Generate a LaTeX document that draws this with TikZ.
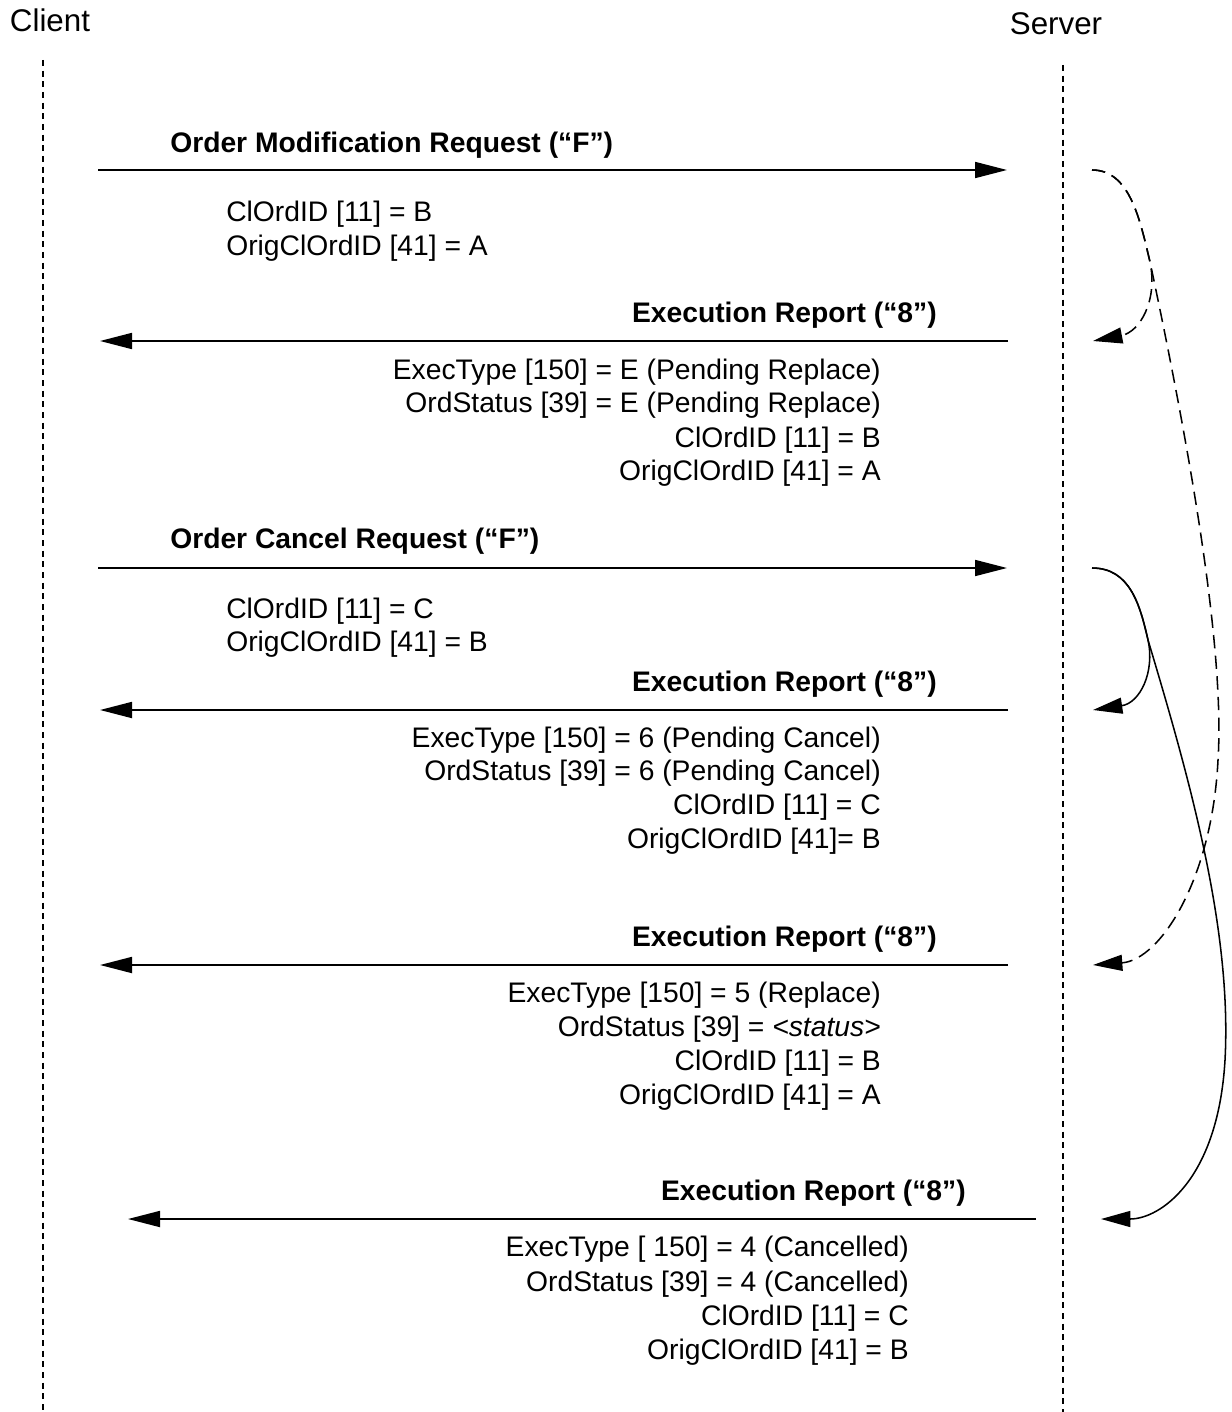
\documentclass[tikz,border=0pt]{standalone}
\usepackage{fontspec}
\setmainfont{Liberation Sans}
\usetikzlibrary{arrows.meta}
\tikzset{
  lifeline/.style={line width=1pt, dash pattern=on 4.5pt off 3.5pt},
  msg/.style={line width=1.3pt, -{Triangle[length=24pt,width=12pt]}},
  curvedash/.style={line width=1.15pt, dash pattern=on 10pt off 5.5pt, -{Triangle[length=22pt,width=12pt]}},
  curvesolid/.style={line width=1.15pt, -{Triangle[length=22pt,width=12pt]}},
  txt/.style={font=\fontsize{21.2}{25.5}\selectfont, inner sep=0pt},
  actor/.style={font=\fontsize{23.5}{28}\selectfont, inner sep=0pt, anchor=base},
  hdr/.style={font=\fontsize{21.2}{25.5}\selectfont\bfseries, inner sep=0pt},
  lt/.style={txt, anchor=base west},
  rt/.style={txt, anchor=base east},
}
\begin{document}
\begin{tikzpicture}[x=0.75pt,y=-0.75pt]
\useasboundingbox (0,0) rectangle (1231,1412);
% participants
\node[actor] (client) at (50,32) {Client};
\node[actor] (server) at (1056,35) {Server};
\coordinate (c0) at (43,60);
\coordinate (c1) at (43,1412);
\coordinate (s0) at (1063,65);
\coordinate (s1) at (1063,1412);
\draw[lifeline] (c0) -- (c1);
\draw[lifeline] (s0) -- (s1);

% message endpoints
\coordinate (m1a) at (98,170);   \coordinate (m1b) at (1007,170);
\coordinate (m2a) at (1008,341); \coordinate (m2b) at (100,341);
\coordinate (m3a) at (98,568);   \coordinate (m3b) at (1007,568);
\coordinate (m4a) at (1008,710); \coordinate (m4b) at (100,710);
\coordinate (m5a) at (1008,965); \coordinate (m5b) at (100,965);
\coordinate (m6a) at (1036,1219);\coordinate (m6b) at (128,1219);
\draw[msg] (m1a) -- (m1b);
\draw[msg] (m2a) -- (m2b);
\draw[msg] (m3a) -- (m3b);
\draw[msg] (m4a) -- (m4b);
\draw[msg] (m5a) -- (m5b);
\draw[msg] (m6a) -- (m6b);

% message 1
\node[hdr, anchor=base west] (h1) at (170,153) {Order Modification Request (“F”)};
\node[lt] (t11) at (226,222) {ClOrdID [11] = B};
\node[lt] (t12) at (226,256) {OrigClOrdID [41] = A};
% message 2
\node[hdr, anchor=base east] (h2) at (937,323) {Execution Report (“8”)};
\node[rt] (t21) at (881,379) {ExecType [150] = E (Pending Replace)};
\node[rt] (t22) at (881,412) {OrdStatus [39] = E (Pending Replace)};
\node[rt] (t23) at (881,447) {ClOrdID [11] = B};
\node[rt] (t24) at (881,480) {OrigClOrdID [41] = A};
% message 3
\node[hdr, anchor=base west] (h3) at (170,548) {Order Cancel Request (“F”)};
\node[lt] (t31) at (226,618) {ClOrdID [11] = C};
\node[lt] (t32) at (226,651) {OrigClOrdID [41] = B};
% message 4
\node[hdr, anchor=base east] (h4) at (937,691) {Execution Report (“8”)};
\node[rt] (t41) at (881,747) {ExecType [150] = 6 (Pending Cancel)};
\node[rt] (t42) at (881,780) {OrdStatus [39] = 6 (Pending Cancel)};
\node[rt] (t43) at (881,814) {ClOrdID [11] = C};
\node[rt] (t44) at (881,848) {OrigClOrdID [41]= B};
% message 5
\node[hdr, anchor=base east] (h5) at (937,946) {Execution Report (“8”)};
\node[rt] (t51) at (881,1002) {ExecType [150] = 5 (Replace)};
\node[rt] (t52) at (881,1036) {OrdStatus [39] = \textit{<status>}};
\node[rt] (t53) at (881,1070) {ClOrdID [11] = B};
\node[rt] (t54) at (881,1104) {OrigClOrdID [41] = A};
% message 6
\node[hdr, anchor=base east] (h6) at (966,1200) {Execution Report (“8”)};
\node[rt] (t61) at (909,1256) {ExecType [ 150] = 4 (Cancelled)};
\node[rt] (t62) at (909,1291) {OrdStatus [39] = 4 (Cancelled)};
\node[rt] (t63) at (909,1325) {ClOrdID [11] = C};
\node[rt] (t64) at (909,1359) {OrigClOrdID [41] = B};

% server-side causal curves
\coordinate (q1) at (1092,170);
\coordinate (r2) at (1093,341);
\coordinate (r5) at (1093,965);
\coordinate (q3) at (1092,568);
\coordinate (r4) at (1093,710);
\coordinate (r6) at (1101,1219);
\draw[curvedash] (q1) .. controls (1130,170) and (1140,220) .. (1150,262)
  .. controls (1158,300) and (1140,332) .. (r2);
\draw[curvedash] (q1) .. controls (1130,170) and (1140,220) .. (1150,262)
  .. controls (1190,450) and (1225,650) .. (1218,760)
  .. controls (1212,880) and (1160,960) .. (r5);
\draw[curvesolid] (q3) .. controls (1130,568) and (1140,605) .. (1148,640)
  .. controls (1155,672) and (1140,703) .. (r4);
\draw[curvesolid] (q3) .. controls (1130,568) and (1140,605) .. (1148,640)
  .. controls (1190,780) and (1232,930) .. (1225,1060)
  .. controls (1218,1180) and (1160,1219) .. (r6);
\end{tikzpicture}
\end{document}
